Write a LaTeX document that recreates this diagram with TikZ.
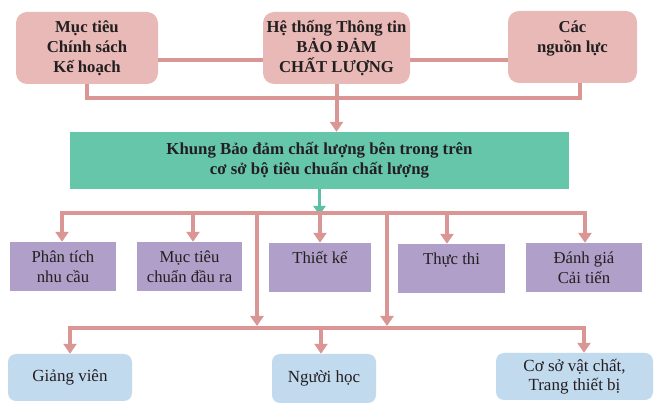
\documentclass[tikz,border=0pt]{standalone}
\usepackage{fontspec}
\setmainfont{Liberation Serif}
\usetikzlibrary{arrows.meta}
\definecolor{pk}{HTML}{E8B9B6}
\definecolor{pl}{HTML}{DA9595}
\definecolor{gn}{HTML}{66C6AA}
\definecolor{tl}{HTML}{5DBFA5}
\definecolor{pu}{HTML}{B09FC9}
\definecolor{bl}{HTML}{C2DAEE}
\definecolor{tx}{HTML}{231F20}
\begin{document}
\begin{tikzpicture}[x=1pt,y=-1pt,
  topbox/.style={fill=pk, rounded corners=11pt, inner sep=0pt, align=center, text=tx,
    font=\fontsize{16.7}{20}\selectfont\bfseries},
  greenbox/.style={fill=gn, inner sep=0pt, align=center, text=tx,
    font=\fontsize{16.8}{20}\selectfont\bfseries},
  purplebox/.style={fill=pu, inner sep=0pt, align=center, text=tx,
    font=\fontsize{16.7}{20}\selectfont},
  bluebox/.style={fill=bl, rounded corners=8pt, inner sep=0pt, align=center, text=tx,
    font=\fontsize{17}{18.5}\selectfont},
  pline/.style={draw=pl, line width=4pt},
  parrow/.style={pline, -{Triangle[width=13pt,length=10pt]}},
  pboth/.style={pline, {Triangle[width=13pt,length=10pt]}-{Triangle[width=13pt,length=10pt]}},
  garrow/.style={draw=tl, line width=3pt, -{Triangle[width=12pt,length=9pt]}}
]
\useasboundingbox (0,0) rectangle (657,403);

% top boxes
\node[topbox, minimum width=142pt, minimum height=72pt] (t1) at (87,48) {Mục tiêu\\Chính sách\\Kế hoạch};
\node[topbox, minimum width=147pt, minimum height=72pt] (t2) at (336.5,48) {Hệ thống Thông tin\\BẢO ĐẢM\\CHẤT LƯỢNG};
\node[topbox, minimum width=129pt, minimum height=72pt] (t3) at (572.5,47) {Các\\nguồn lực\\\mbox{}};

% green box
\node[greenbox, minimum width=499pt, minimum height=57pt] (g) at (319.5,160.5)
  {Khung Bảo đảm chất lượng bên trong trên\\cơ sở bộ tiêu chuẩn chất lượng};

% purple boxes
\node[purplebox, minimum width=106pt, minimum height=49pt] (p1) at (63,266.5) {Phân tích\\nhu cầu};
\node[purplebox, minimum width=105pt, minimum height=49pt] (p2) at (189.5,266.5) {Mục tiêu\\chuẩn đầu ra};
\node[purplebox, minimum width=102pt, minimum height=49pt] (p3) at (320,267.5) {Thiết kế\\\mbox{}};
\node[purplebox, minimum width=107pt, minimum height=49pt] (p4) at (451.5,268.5) {Thực thi\\\mbox{}};
\node[purplebox, minimum width=116pt, minimum height=49pt] (p5) at (584,267.5) {Đánh giá\\Cải tiến};

% blue boxes
\node[bluebox, minimum width=124pt, minimum height=47pt] (b1) at (70,377.5) {Giảng viên};
\node[bluebox, minimum width=104pt, minimum height=49pt] (b2) at (324,378.5) {Người học};
\node[bluebox, minimum width=157pt, minimum height=47pt] (b3) at (574.5,376.5) {Cơ sở vật chất,\\Trang thiết bị};

% coordinates
\coordinate (h1) at (0,60);
\coordinate (brR) at (580,98);
\coordinate (hl) at (0,213);
\coordinate (hr) at (585,213);
\coordinate (a2) at (193,213);
\coordinate (a3) at (320,213);
\coordinate (a4) at (447,213);
\coordinate (v1) at (257,213);
\coordinate (v2) at (387,213);
\coordinate (bly) at (0,328);
\coordinate (vtip) at (0,326);
\coordinate (bx1) at (70,328);
\coordinate (bx2) at (321,328);
\coordinate (bx3) at (584,328);

% top connectors
\draw[pline] (t1.east |- h1) -- (t2.west |- h1);
\draw[pline] (t2.east |- h1) -- (t3.west |- h1);
\draw[pline] (t1.south) |- (brR) -- (brR |- t3.south);
\draw[parrow] (t2.south) -- (t2.south |- g.north);

% green arrow
\draw[garrow] (g.south) -- ([yshift=-2pt]g.south |- hl);

% middle bus
\draw[pboth] (p1.north -| 62,0) |- (hr) -- (hr |- p5.north);
\draw[parrow] (a2) -- (a2 |- p2.north);
\draw[parrow] (a3) -- (a3 |- p3.north);
\draw[parrow] (a4) -- (a4 |- p4.north);
\draw[parrow] ([yshift=-2pt]v1) -- (v1 |- vtip);
\draw[parrow] ([yshift=-2pt]v2) -- (v2 |- vtip);

% bottom bus
\draw[pboth] (bx1 |- b1.north) |- (bx3) -- (bx3 |- b3.north);
\draw[parrow] (bx2) -- (bx2 |- b2.north);
\end{tikzpicture}
\end{document}
